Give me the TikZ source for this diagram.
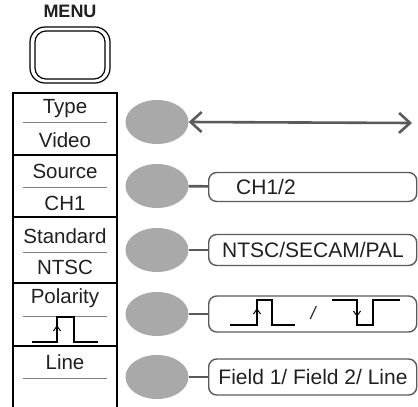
\documentclass[tikz,border=0pt]{standalone}
\usepackage{fontspec}
\setmainfont{Liberation Sans}
\usetikzlibrary{arrows.meta,shapes.geometric}
\definecolor{btngray}{HTML}{A9A9A9}
\definecolor{linegray}{HTML}{5A5A5A}
\definecolor{txt}{HTML}{202020}
\tikzset{
  lbl/.style={font=\fontsize{20.5}{22}\selectfont, text=txt, inner sep=0pt},
  boxlbl/.style={font=\fontsize{21}{23}\selectfont, text=txt, inner sep=0pt},
  softkey/.style={ellipse, fill=btngray, minimum width=63pt, minimum height=44pt, inner sep=0pt},
  optbox/.style={draw=linegray, line width=1.4pt, rounded corners=8pt, minimum width=208pt, inner sep=0pt},
  conn/.style={draw=linegray, line width=2.6pt},
  divider/.style={draw=black, line width=1.8pt},
  thin/.style={draw=gray, line width=0.9pt},
  pulse/.style={draw=black, line width=1.5pt},
  chev/.style={draw=black, line width=1pt}
}
\begin{document}
\begin{tikzpicture}[x=1pt,y=-1pt]
\useasboundingbox (0,0) rectangle (418,407);
% MENU button
\node[font=\fontsize{18}{20}\selectfont\bfseries, text=txt, inner sep=0pt] (menu) at (70,11) {MENU};
\draw[black, line width=1.2pt, rounded corners=15pt] (30,27) rectangle (110,83);
\draw[black, line width=1.2pt, rounded corners=11pt] (35,31) rectangle (105,79);
% left panel
\draw[divider] (13,407) -- (13,93) -- (117,93) -- (117,407);
\foreach \y in {155,217,283,346} \draw[divider] (13,\y) -- (117,\y);
\foreach \y in {122,187,252,316,378} \draw[thin] (23,\y) -- (107,\y);
\node[lbl] (type) at (65,109) {Type};
\node[lbl] (video) at (65,140) {Video};
\node[lbl] (source) at (65,171) {Source};
\node[lbl] (ch1) at (65,203) {CH1};
\node[lbl] (standard) at (65,236) {Standard};
\node[lbl] (ntsc) at (65,267) {NTSC};
\node[lbl] (polarity) at (65,298) {Polarity};
\node[lbl] (line) at (65,362) {Line};
\draw[pulse] (32,342) -- (57,342) -- (57,317) -- (74,317) -- (74,342) -- (98,342);
\draw[chev] (53.5,331) -- (57,326) -- (60.5,331);
% soft keys
\node[softkey] (e1) at (157,122) {};
\node[softkey] (e2) at (157,186) {};
\node[softkey] (e3) at (157,250) {};
\node[softkey] (e4) at (157,314) {};
\node[softkey] (e5) at (157,377) {};
% option boxes
\node[optbox, minimum height=29pt, anchor=west] (b2) at (208,187) {};
\node[optbox, minimum height=31pt, anchor=west] (b3) at (208,250) {};
\node[optbox, minimum height=36pt, anchor=west] (b4) at (208,314) {};
\node[optbox, minimum height=36pt, anchor=west] (b5) at (208,377) {};
\node[boxlbl, anchor=west] (t2) at (236,187) {CH1/2};
\node[boxlbl] (t3) at (313,250) {NTSC/SECAM/PAL};
\node[boxlbl] (t5) at (313,377) {Field 1/ Field 2/ Line};
% polarity pulses in box
\draw[pulse] (230,325) -- (257,325) -- (257,300) -- (272,300) -- (272,325) -- (295,325);
\draw[chev] (253.5,314) -- (257,309) -- (260.5,314);
\node[boxlbl, font=\fontsize{18}{20}\selectfont\itshape] (slash) at (313,313) {/};
\draw[pulse] (332,300) -- (357,300) -- (357,325) -- (373,325) -- (373,300) -- (400,300);
\draw[chev] (353.5,311) -- (357,316) -- (360.5,311);
% connectors
\coordinate (a1) at (412,123);
\draw[draw=linegray, line width=2.6pt, {Straight Barb[length=11pt,width=20pt]}-{Straight Barb[length=11pt,width=20pt]}] (e1.east) -- (a1);
\draw[conn] (e2) -- (b2);
\draw[conn] (e3) -- (b3);
\draw[conn] (e4) -- (b4);
\draw[conn] (e5) -- (b5);
\end{tikzpicture}
\end{document}
